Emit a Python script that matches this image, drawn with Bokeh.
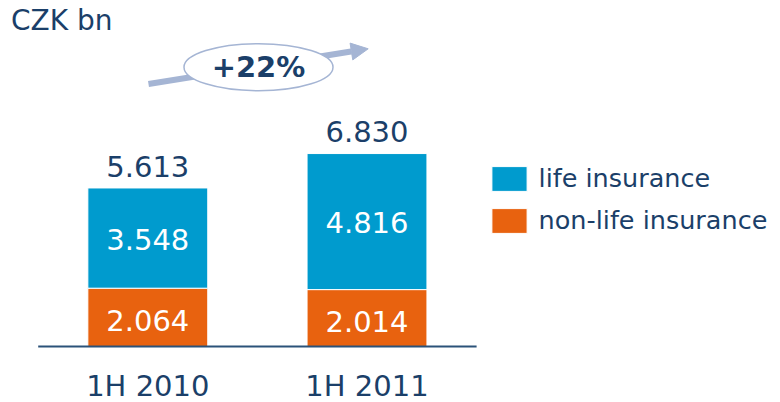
from bokeh.plotting import figure
from bokeh.models import Range1d, Legend, LegendItem, Arrow, NormalHead, ColumnDataSource
from bokeh.core.properties import value
from bokeh.embed import file_html
from bokeh.resources import INLINE

# ---- data ----
categories = ["1H 2010", "1H 2011"]
life = [3.548, 4.816]
nonlife = [2.064, 2.014]
totals = [5.613, 6.830]
series_names = ["life insurance", "non-life insurance"]
unit_label = "CZK bn"
growth_label = "+22%"

# ---- styles ----
NAVY = "#1b3f69"
BASE = "#2b5279"
BLUE = "#009bce"
ORANGE = "#e8620f"
ARROW = "#a5b5d4"
FONT = value("DejaVu Sans")

W, H = 780, 402
PX_PER_UNIT = 28.25
ZERO_Y = 346.0          # canvas pixel of value 0
CAT0_X = 147.3          # canvas pixel of first category
CAT_STEP = 219.2        # pixels between categories

idx = list(range(len(categories)))
src = ColumnDataSource(dict(
    x=idx,
    cat=categories,
    non_bottom=[0.0] * len(idx),
    non_top=nonlife,
    life_bottom=nonlife,
    life_top=[n + l for n, l in zip(nonlife, life)],
    non_mid=[n / 2 for n in nonlife],
    life_mid=[n + l / 2 for n, l in zip(nonlife, life)],
    total=totals,
    total_lbl=[f"{v:.3f}" for v in totals],
    life_lbl=[f"{v:.3f}" for v in life],
    non_lbl=[f"{v:.3f}" for v in nonlife],
    zero=[0.0] * len(idx),
))

x_start = -CAT0_X / CAT_STEP
x_end = (W - CAT0_X) / CAT_STEP
y_end = ZERO_Y / PX_PER_UNIT
y_start = -(H - ZERO_Y) / PX_PER_UNIT

p = figure(width=W, height=H, x_range=Range1d(x_start, x_end), y_range=Range1d(y_start, y_end),
           output_backend="svg", toolbar_location=None,
           x_axis_location=None, y_axis_location=None, min_border=0,
           outline_line_color=None, background_fill_color="white", border_fill_color="white")
p.xgrid.visible = False
p.ygrid.visible = False
p.extra_x_ranges = {"px": Range1d(0, W)}
p.extra_y_ranges = {"px": Range1d(H, 0)}

# growth arrow + ellipse
arrow = Arrow(end=NormalHead(size=17, fill_color=ARROW, line_color=ARROW),
              x_start=148, y_start=83.5, x_end=367.7, y_end=48.3,
              line_color=ARROW, line_width=6, x_range_name="px", y_range_name="px", level="underlay")
p.add_layout(arrow)
p.ellipse(x=[258], y=[66.7], width=149, height=47, fill_color="white", line_color=ARROW,
          line_width=1.5, x_range_name="px", y_range_name="px")
p.text(x=[258], y=[66], text=[growth_label], text_align="center", text_baseline="middle",
       text_font=FONT, text_font_size="29px", text_font_style="bold", text_color=NAVY,
       x_range_name="px", y_range_name="px")

# unit label
p.text(x=[10.5], y=[20.4], text=[unit_label], text_align="left", text_baseline="middle",
       text_font=FONT, text_font_size="28px", text_color=NAVY,
       x_range_name="px", y_range_name="px")

# bars
bw = 0.547
r_non = p.vbar(x="x", bottom="non_bottom", top="non_top", width=bw, source=src,
               fill_color=ORANGE, line_color="white", line_width=1)
r_life = p.vbar(x="x", bottom="life_bottom", top="life_top", width=bw, source=src,
                fill_color=BLUE, line_color="white", line_width=1)

# baseline
p.segment(x0=[-0.5], y0=[0], x1=[len(categories) - 0.5], y1=[0], line_color=BASE, line_width=2)

# labels
p.text(x="x", y="total", text="total_lbl", source=src, text_align="center", text_baseline="middle",
       y_offset=-21.7, text_font=FONT, text_font_size="29px", text_color=NAVY)
p.text(x="x", y="life_mid", text="life_lbl", source=src, text_align="center", text_baseline="middle",
       y_offset=1.3, text_font=FONT, text_font_size="29px", text_color="white")
p.text(x="x", y="non_mid", text="non_lbl", source=src, text_align="center", text_baseline="middle",
       y_offset=3.5, text_font=FONT, text_font_size="29px", text_color="white")
p.text(x="x", y="zero", text="cat", source=src, text_align="center", text_baseline="middle",
       y_offset=39.5, text_font=FONT, text_font_size="29px", text_color=NAVY)

legend = Legend(items=[LegendItem(label=series_names[0], renderers=[r_life]),
                       LegendItem(label=series_names[1], renderers=[r_non])],
                location=(486.6, 166.2), orientation="vertical",
                glyph_width=44, glyph_height=31, label_height=31, label_standoff=8, spacing=11,
                padding=0, margin=0, border_line_color=None, background_fill_alpha=0,
                label_text_font="DejaVu Sans", label_text_font_size="25.5px", label_text_color=NAVY)
p.add_layout(legend)

open("out.html", "w").write(file_html(p, INLINE))
